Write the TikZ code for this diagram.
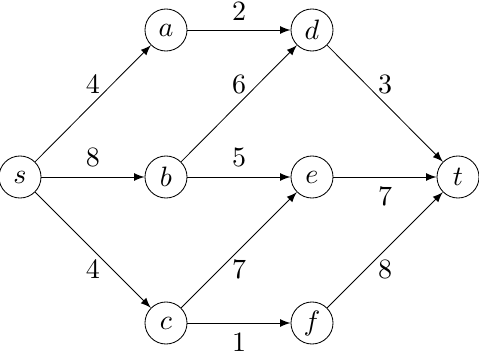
\documentclass[tikz,border=0pt]{standalone}
\begin{document}
\begin{tikzpicture}[x=0.357pt,y=-0.357pt,line width=0.3pt,
  vtx/.style={draw,circle,minimum size=15pt,inner sep=0pt},
  edge/.style={-latex},
  lab/.style={inner sep=3.3pt}]
\useasboundingbox (0,0) rectangle (479,357);
\node[vtx] (s) at (20,177) {$s$};
\node[vtx] (a) at (166,30) {$a$};
\node[vtx] (b) at (166,177) {$b$};
\node[vtx] (c) at (166,323) {$c$};
\node[vtx] (d) at (312,30) {$d$};
\node[vtx] (e) at (312,177) {$e$};
\node[vtx] (f) at (312,323) {$f$};
\node[vtx] (t) at (458,177) {$t$};
\draw[edge] (s) -- node[lab,above] {4} (a);
\draw[edge] (s) -- node[lab,above] {8} (b);
\draw[edge] (s) -- node[lab,below] {4} (c);
\draw[edge] (a) -- node[lab,above] {2} (d);
\draw[edge] (b) -- node[lab,above] {6} (d);
\draw[edge] (b) -- node[lab,above] {5} (e);
\draw[edge] (c) -- node[lab,below] {7} (e);
\draw[edge] (c) -- node[lab,below] {1} (f);
\draw[edge] (d) -- node[lab,above] {3} (t);
\draw[edge] (e) -- node[lab,below] {7} (t);
\draw[edge] (f) -- node[lab,below] {8} (t);
\end{tikzpicture}
\end{document}
